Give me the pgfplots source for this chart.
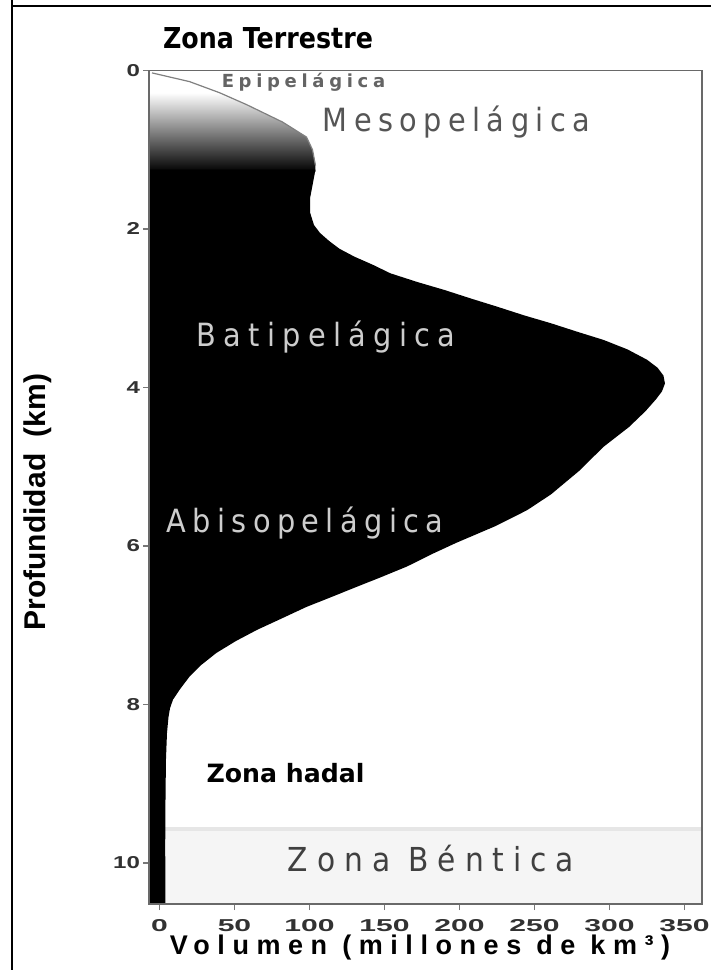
\documentclass[border=0pt]{standalone}
\usepackage{pgfplots}
\pgfplotsset{compat=1.18}
\usepackage{fontspec}
\setmainfont{Liberation Sans}
\newfontfamily\xtickfont[FakeStretch=1.75]{Liberation Sans Bold}
\newfontfamily\ytickfont[FakeStretch=1.4]{Liberation Sans Bold}
\newfontfamily\terrfont[FakeStretch=0.88]{DejaVu Sans Bold}
\newfontfamily\zonefont[FakeStretch=0.9,LetterSpace=20]{DejaVu Sans}
\newfontfamily\batifont[FakeStretch=0.9,LetterSpace=23]{DejaVu Sans}
\newfontfamily\bentfont[FakeStretch=0.9,LetterSpace=27]{DejaVu Sans}
\newfontfamily\epifont[LetterSpace=26]{DejaVu Sans}
\newfontfamily\hadalfont{DejaVu Sans}
\newfontfamily\xlabfont[LetterSpace=28]{Liberation Sans}
\definecolor{axisgray}{RGB}{105,105,105}
\definecolor{tickgray}{RGB}{120,120,120}
\definecolor{ticktext}{RGB}{50,50,50}
\definecolor{mesogray}{RGB}{85,85,85}
\definecolor{epigray}{RGB}{100,100,100}
\definecolor{batigray}{RGB}{205,205,205}
\definecolor{bentgray}{RGB}{64,64,64}
\definecolor{bandfill}{RGB}{245,245,245}
\definecolor{bandline}{RGB}{230,230,230}

\begin{document}
\begin{tikzpicture}
\path[use as bounding box] (0,0) rectangle (355.5pt,-485pt);
\fill[white] (0,0) rectangle (355.5pt,-485pt);
\draw[black, line width=1pt] (6pt,0) -- (6pt,-485pt);
\draw[black, line width=1pt] (6pt,-3pt) -- (355.5pt,-3pt);
\begin{axis}[at={(74.5pt,-452pt)}, anchor=south west, scale only axis,
 width=276.5pt, height=416.75pt,
 xmin=-7, xmax=361.7, ymin=0, ymax=10.52, y dir=reverse,
 xtick={0,50,...,350}, ytick={0,2,...,10},
 axis line style={draw=axisgray, line width=0.9pt},
 tick style={draw=tickgray, line width=0.7pt},
 tick align=outside, major tick length=3pt,
 xtick pos=bottom, ytick pos=left,
 xticklabel style={font=\xtickfont\fontsize{8.6}{9}\selectfont, text=ticktext, inner sep=1pt, yshift=-3.5pt},
 yticklabel style={font=\ytickfont\fontsize{8.6}{9}\selectfont, text=ticktext, xshift=2pt},
 /pgf/number format/assume math mode=true,
 clip=false, axis on top]
% Bentic band
\addplot[draw=none, fill=bandfill] coordinates {(-7,9.55) (361.7,9.55) (361.7,10.52) (-7,10.52)} -- cycle;
\addplot[draw=bandline, line width=2pt] coordinates {(-7,9.57) (361.7,9.57)};
% shaded upper part
\addplot[draw=none, top color=white, middle color=black!50, bottom color=black] coordinates {
(-7,0.28) (40,0.28) (58,0.43) (82,0.65) (98,0.84) (102,1.0) (104,1.2) (104,1.28) (-7,1.28)} -- cycle;
% black volume profile
\addplot[draw=none, fill=black] coordinates {
(-7,1.25) (104,1.25) (102.5,1.4) (100.5,1.6) (100.5,1.8) (103,1.95) (107,2.05) (113,2.15)
(120,2.25) (130,2.35) (142,2.45) (154,2.56) (172,2.67) (190,2.77) (208,2.88) (225,2.98)
(243,3.09) (261,3.19) (279,3.30) (296,3.40) (312,3.52) (325,3.65) (332,3.75) (336,3.85)
(337,3.95) (335,4.05) (331,4.15) (324,4.3) (313,4.5) (296,4.75) (280,5.05) (261,5.35)
(245,5.55) (224,5.75) (198,5.96) (182,6.1) (165,6.26) (147,6.4) (131,6.52) (114,6.65)
(98,6.77) (81,6.92) (65,7.06) (51,7.2) (38,7.35) (28,7.5) (20,7.65) (14,7.8) (9,7.94)
(7,8.05) (6,8.16) (5,8.36) (4.3,8.7) (4,9.2) (3.8,9.8) (4,10.52) (-7,10.52)} -- cycle;
% thin outline at the surface
\addplot[draw=gray, line width=0.6pt] coordinates {
(-5,0.03) (20,0.14) (40,0.28) (58,0.43) (82,0.65) (98,0.84) (102,1.0) (104,1.2)};
% zone labels
\node[font=\epifont\bfseries\fontsize{9}{9}\selectfont, text=epigray] at (axis cs:96,0.146) {Epipelágica};
\node[font=\zonefont\fontsize{16}{16}\selectfont, text=mesogray] at (axis cs:198,0.65) {Mesopelágica};
\node[font=\batifont\fontsize{16}{16}\selectfont, text=batigray] at (axis cs:111,3.36) {Batipelágica};
\node[font=\zonefont\fontsize{16}{16}\selectfont, text=batigray] at (axis cs:97,5.71) {Abisopelágica};
\node[font=\hadalfont\bfseries\fontsize{12.6}{13}\selectfont, text=black] at (axis cs:84,8.87) {Zona hadal};
\node[font=\bentfont\fontsize{16.5}{17}\selectfont, text=bentgray] at (axis cs:181,9.94) {Zona Béntica};
\end{axis}
\node[font=\terrfont\fontsize{14.4}{15}\selectfont] at (134pt,-19pt) {Zona Terrestre};
\node[rotate=90, font=\bfseries\fontsize{15}{15}\selectfont] at (19pt,-251pt) {Profundidad\ \ (km)};
\node[font=\xlabfont\bfseries\fontsize{13.5}{14}\selectfont, anchor=base, inner sep=1pt] at (210pt,-477pt) {Volumen (millones de km³)};
\end{tikzpicture}
\end{document}
